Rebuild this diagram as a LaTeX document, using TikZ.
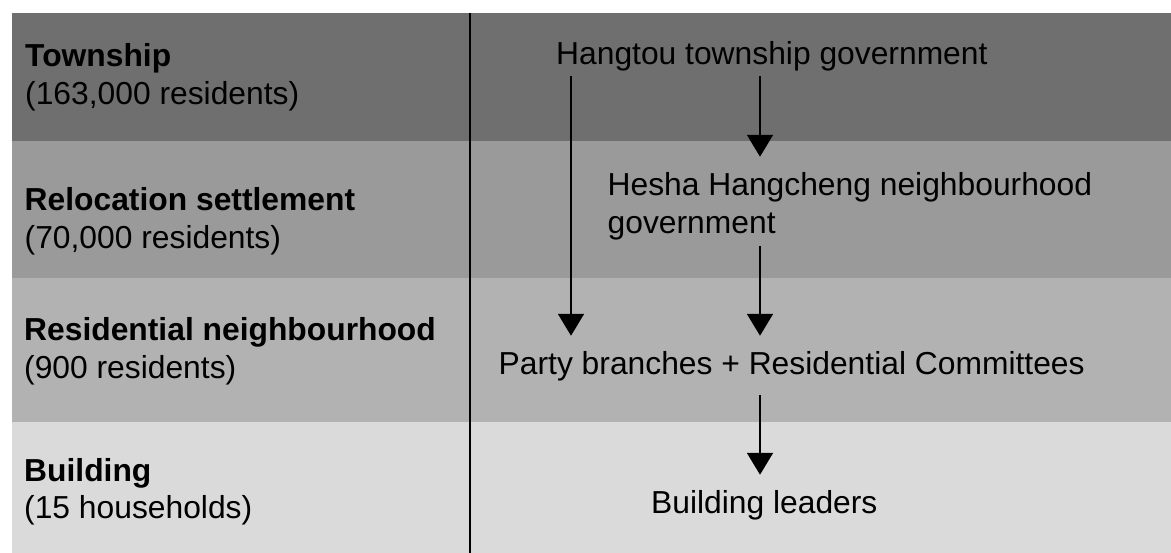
\documentclass[tikz,border=0pt]{standalone}
\usepackage{fontspec}
\setmainfont{Liberation Sans}
\usetikzlibrary{arrows.meta}
\definecolor{bandA}{HTML}{6F6F6F}
\definecolor{bandB}{HTML}{9A9A9A}
\definecolor{bandC}{HTML}{B2B2B2}
\definecolor{bandD}{HTML}{DADADA}
\begin{document}
\begin{tikzpicture}[x=1pt,y=-1pt,
  lbl/.style={anchor=base west, inner sep=0pt, align=left, font=\fontsize{31.8}{37.5}\selectfont},
  txt/.style={anchor=base west, inner sep=0pt, align=left, font=\fontsize{31.8}{38}\selectfont},
  arr/.style={line width=2pt, -{Triangle[length=22pt,width=26pt]}}]
\useasboundingbox (0,0) rectangle (1171,553);
\fill[white] (0,0) rectangle (1171,553);
\fill[bandA] (11.5,13.3) rectangle (1171,141.5);
\fill[bandB] (11.5,141.5) rectangle (1171,278);
\fill[bandC] (11.5,278) rectangle (1171,422.5);
\fill[bandD] (11.5,422.5) rectangle (1171,553);
\draw[line width=2pt] (470,13.3) -- (470,553);
% left labels (base anchor = baseline of last line)
\node[lbl] (l1) at (25,104.5) {\textbf{Township}\\(163,000 residents)};
\node[lbl] (l2) at (24.5,248.5) {\textbf{Relocation settlement}\\(70,000 residents)};
\node[lbl] (l3) at (24,378.5) {\textbf{Residential neighbourhood}\\(900 residents)};
\node[lbl] (l4) at (24,518.5) {\textbf{Building}\\(15 households)};
% hierarchy
\node[txt] (hang) at (556,64.5) {Hangtou township government};
\node[txt] (hesha) at (607.5,233.5) {Hesha Hangcheng neighbourhood\\government};
\node[txt] (party) at (498.5,374.5) {Party branches + Residential Committees};
\node[txt] (build) at (651,513.5) {Building leaders};
\coordinate (xl) at (571,0);
\coordinate (xr) at (760,0);
\draw[arr] ([yshift=-5pt]hang.south -| xl) -- ([yshift=15.5pt]party.north -| xl);
\draw[arr] ([yshift=-5pt]hang.south -| xr) -- ([yshift=15.5pt]hesha.north -| xr);
\draw[arr] ([yshift=-5.5pt]hesha.south -| xr) -- ([yshift=15.5pt]party.north -| xr);
\draw[arr] ([yshift=-13.5pt]party.south -| xr) -- ([yshift=15.5pt]build.north -| xr);
\end{tikzpicture}
\end{document}
